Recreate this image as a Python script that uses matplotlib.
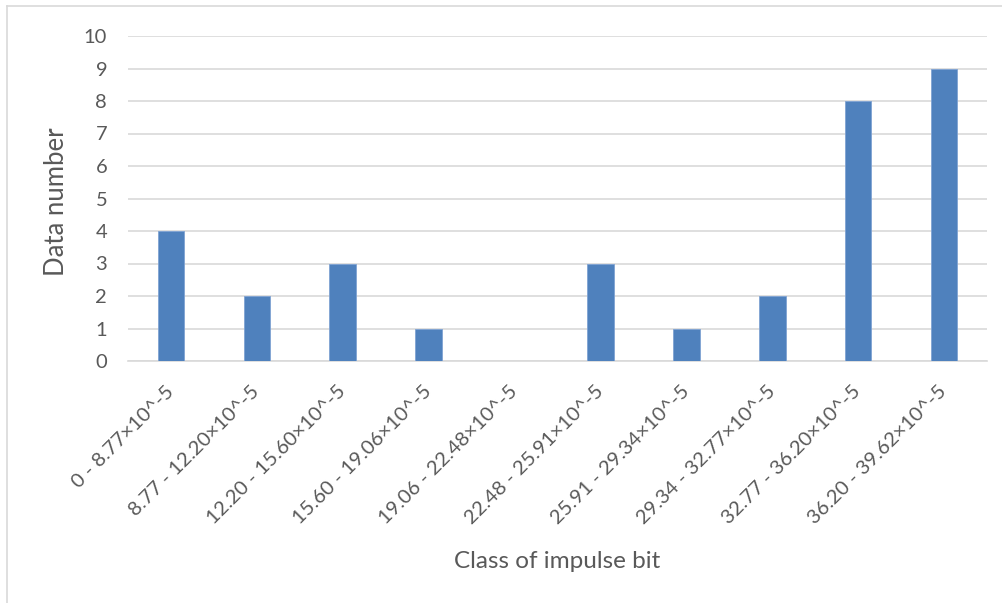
import matplotlib
matplotlib.use("Agg")
import matplotlib.pyplot as plt
from matplotlib.lines import Line2D

categories = [
    "0 - 8.77×10^-5",
    "8.77 - 12.20×10^-5",
    "12.20 - 15.60×10^-5",
    "15.60 - 19.06×10^-5",
    "19.06 - 22.48×10^-5",
    "22.48 - 25.91×10^-5",
    "25.91 - 29.34×10^-5",
    "29.34 - 32.77×10^-5",
    "32.77 - 36.20×10^-5",
    "36.20 - 39.62×10^-5",
]
counts = [4, 2, 3, 1, 0, 3, 1, 2, 8, 9]
y_ticks = list(range(0, 11))

text_color = "#595959"
bar_color = "#4F81BD"
grid_color = "#D9D9D9"

plt.rcParams["font.family"] = ["Lato", "DejaVu Sans"]

W, H = 1003, 603
fig = plt.figure(figsize=(W / 100, H / 100), dpi=100)
left, right, top, bottom = 128, 987, 36, 361
ax = fig.add_axes([left / W, 1 - bottom / H, (right - left) / W, (bottom - top) / H])

x = list(range(len(categories)))
ax.bar(x, counts, width=0.31, color=bar_color, edgecolor="#7FA3D3", linewidth=0.6, zorder=3)

ax.set_xlim(-0.5, len(categories) - 0.5)
ax.set_ylim(0, 10)
ax.set_yticks(y_ticks)
ax.set_yticklabels([str(v) for v in y_ticks], fontsize=14.5, color=text_color)
ax.set_xticks(x)
ax.set_xticklabels(categories, rotation=45, ha="right", va="center", rotation_mode="anchor",
                   fontsize=14.6, color=text_color)
ax.tick_params(axis="both", length=0)
ax.tick_params(axis="y", pad=15)
ax.tick_params(axis="x", pad=20)

ax.grid(axis="y", color=grid_color, linewidth=1.2, zorder=0)
for side in ["top", "right", "left"]:
    ax.spines[side].set_visible(False)
ax.spines["bottom"].set_color(grid_color)
ax.spines["bottom"].set_linewidth(1.2)

ax.set_xlabel("Class of impulse bit", fontsize=17.5, color=text_color, va="center")
ax.xaxis.set_label_coords(0.5, (bottom - 562) / (bottom - top))
ax.set_ylabel("Data number", fontsize=18.5, color=text_color, va="center", ha="center")
ax.yaxis.set_label_coords((57 - left) / (right - left), (bottom - 202) / (bottom - top))

# chart area outline
fig.add_artist(Line2D([7 / W, 1.0], [1 - 6 / H, 1 - 6 / H], transform=fig.transFigure,
                      color=grid_color, linewidth=1.2))
fig.add_artist(Line2D([7 / W, 7 / W], [0.0, 1 - 6 / H], transform=fig.transFigure,
                      color=grid_color, linewidth=1.2))

fig.savefig("out.png", dpi=100)
